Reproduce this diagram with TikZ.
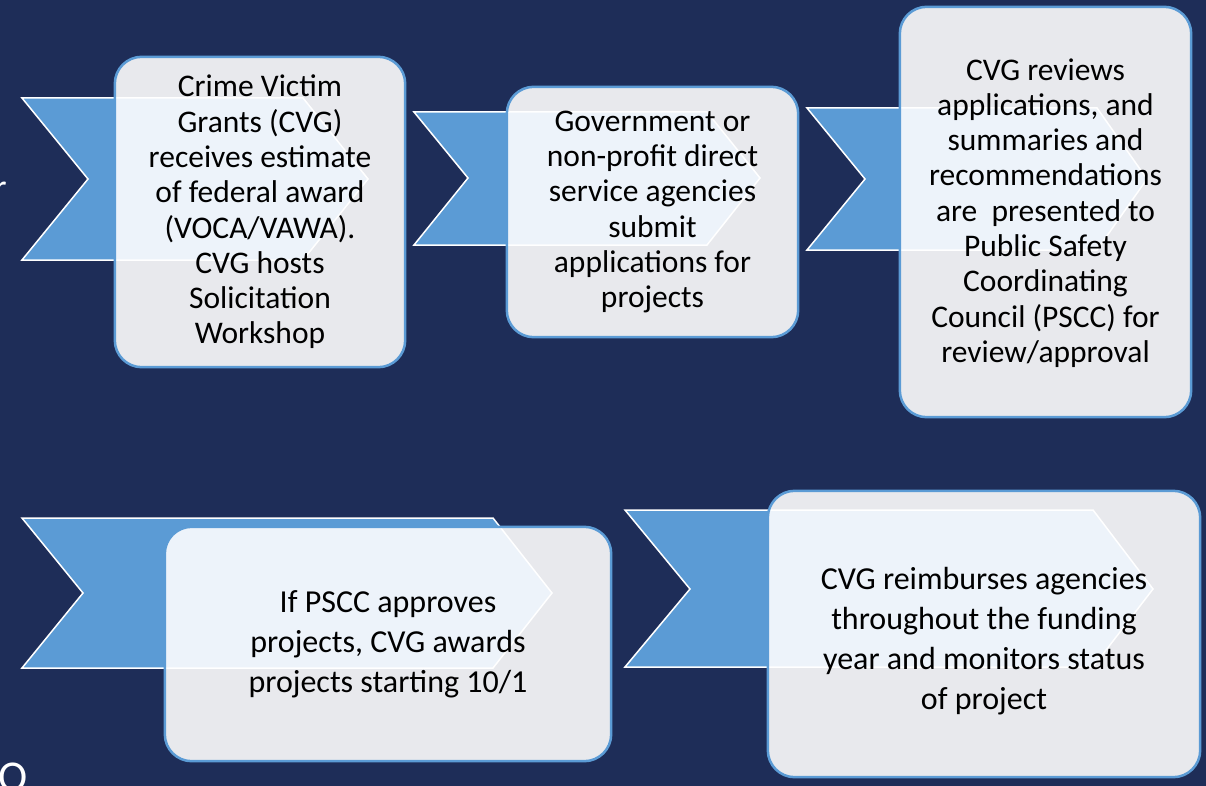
\documentclass[tikz,border=0pt]{standalone}
\usepackage{fontspec}
\setmainfont{Carlito}
\definecolor{navy}{RGB}{30,45,88}
\definecolor{accent}{RGB}{91,155,213}
\definecolor{boxgray}{RGB}{232,233,237}
\definecolor{glow}{RGB}{237,243,250}
\newcommand{\chevA}{(22,98) -- (303,98) -- (368,179) -- (303,260) -- (22,260) -- (88,179) -- cycle}
\newcommand{\chevB}{(414,112) -- (707,112) -- (760,178) -- (707,245) -- (414,245) -- (468,178) -- cycle}
\newcommand{\chevC}{(807,108) -- (1097,108) -- (1147,179) -- (1097,250) -- (807,250) -- (865,179) -- cycle}
\newcommand{\chevD}{(22,518) -- (493,518) -- (552,593) -- (493,668) -- (22,668) -- (83,593) -- cycle}
\newcommand{\chevE}{(625,510) -- (1093,510) -- (1153,589) -- (1093,667) -- (625,667) -- (690,589) -- cycle}

\begin{document}
\begin{tikzpicture}[x=1pt,y=-1pt,
    chevron/.style={fill=accent,draw=white,line width=1.5pt},
    overlay chevron/.style={fill=glow,draw=white,line width=1.5pt},
    boxbg/.style={fill=boxgray,rounded corners=27pt,inner sep=0pt},
    boxline/.style={draw=accent,line width=2.5pt,rounded corners=27pt},
    small/.style={align=center,inner sep=0pt,font=\fontsize{31.5}{35.3}\selectfont},
    large/.style={align=center,inner sep=0pt,font=\fontsize{32}{40}\selectfont},
    frag/.style={text=white,inner sep=0pt}]
            \fill[navy] (0,0) rectangle (1206,786);
            \useasboundingbox (0,0) rectangle (1206,786);
            \node[frag,anchor=base west,font=\fontsize{36}{40}\selectfont] (r) at (-6,200) {r};
            \node[frag,anchor=north west,font=\fontsize{44}{48}\selectfont] (o) at (-2,763) {O};
            \draw[chevron] \chevA;
            \draw[chevron] \chevB;
            \draw[chevron] \chevC;
            \draw[chevron] \chevD;
            \draw[chevron] \chevE;
            \node[boxbg,minimum width=290pt,minimum height=310pt] (b1) at (260,212) {};
            \node[boxbg,minimum width=291pt,minimum height=250pt] (b2) at (652.5,212) {};
            \node[boxbg,minimum width=291pt,minimum height=410pt] (b3) at (1045.5,212) {};
            \node[boxbg,minimum width=446pt,minimum height=234pt] (b4) at (388,644) {};
            \node[boxbg,minimum width=432pt,minimum height=286pt] (b5) at (984,634) {};
            \begin{scope}
                \clip[rounded corners=27pt] (b1.north west) rectangle (b1.south east);
                \draw[overlay chevron] \chevA;
            \end{scope}
            \begin{scope}
                \clip[rounded corners=27pt] (b2.north west) rectangle (b2.south east);
                \draw[overlay chevron] \chevB;
            \end{scope}
            \begin{scope}
                \clip[rounded corners=27pt] (b3.north west) rectangle (b3.south east);
                \draw[overlay chevron] \chevC;
            \end{scope}
            \begin{scope}
                \clip[rounded corners=27pt] (b4.north west) rectangle (b4.south east);
                \draw[overlay chevron] \chevD;
            \end{scope}
            \begin{scope}
                \clip[rounded corners=27pt] (b5.north west) rectangle (b5.south east);
                \draw[overlay chevron] \chevE;
            \end{scope}
            \draw[boxline] (b1.north west) rectangle (b1.south east);
            \draw[boxline] (b2.north west) rectangle (b2.south east);
            \draw[boxline] (b3.north west) rectangle (b3.south east);
            \draw[boxline] (b4.north west) rectangle (b4.south east);
            \draw[boxline] (b5.north west) rectangle (b5.south east);
            \node[small] (t1) at (b1) {Crime Victim\\Grants (CVG)\\receives estimate\\of federal award\\(VOCA/VAWA).\\CVG hosts\\Solicitation\\Workshop};
            \node[small] (t2) at (b2) {Government or\\non-profit direct\\service agencies\\submit\\applications for\\projects};
            \node[small] (t3) at (1045.5,213) {CVG reviews\\applications, and\\summaries and\\recommendations\\are\ \ presented to\\Public Safety\\Coordinating\\Council (PSCC) for\\review/approval};
            \node[large] (t4) at (b4) {If PSCC approves\\projects, CVG awards\\projects starting 10/1};
            \node[large] (t5) at (984,641) {CVG reimburses agencies\\throughout the funding\\year and monitors status\\of project};
\end{tikzpicture}
\end{document}
